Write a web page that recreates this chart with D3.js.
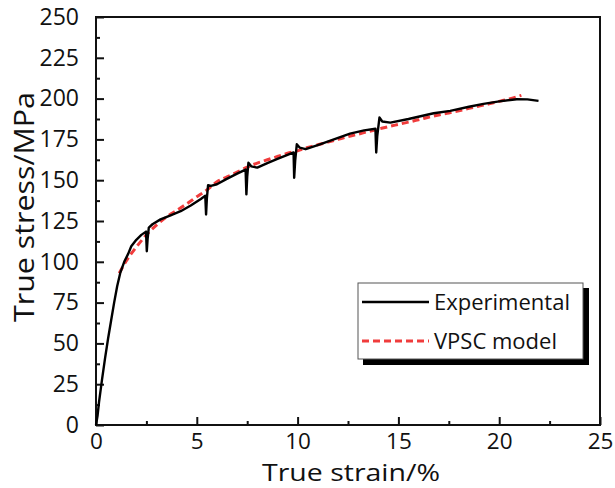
<!DOCTYPE html>
<html>
<head>
<meta charset="utf-8">
<script src="https://cdn.jsdelivr.net/npm/d3@7"></script>
<style>
  html, body { margin: 0; padding: 0; background: #fff; }
  svg { display: block; }
  text { font-family: "Open Sans", "DejaVu Sans", sans-serif; fill: #111; }
</style>
</head>
<body>
<svg id="chart" width="615" height="488"></svg>
<script>
// Measured true stress–strain response (strain %, stress MPa), with the relaxation dips
const experimentalStrain = [0, 0.08, 0.15, 0.3, 0.45, 0.6, 0.75, 0.9, 1.05, 1.2, 1.4, 1.6, 1.75, 2.0, 2.25, 2.48, 2.52, 2.56, 2.62, 2.8, 3.2, 3.7, 4.2, 4.7, 5.2, 5.42, 5.46, 5.5, 5.56, 5.7, 6.0, 6.44, 7.0, 7.42, 7.46, 7.5, 7.56, 7.7, 8.0, 8.5, 9.0, 9.5, 9.8, 9.83, 9.88, 9.96, 10.1, 10.4, 11.0, 11.8, 12.6, 13.3, 13.86, 13.9, 13.95, 14.06, 14.2, 14.6, 15.5, 16.75, 17.57, 18.5, 19.22, 20.0, 20.87, 21.4, 21.95];
const experimentalStress = [0, 6, 14, 28, 41, 53, 64, 75, 85, 93, 100, 105, 109.5, 113.5, 116.5, 118.5, 106.5, 114, 121, 123, 126, 128.5, 131, 134.5, 138.5, 140.5, 129, 139, 147, 146.5, 147.5, 150.5, 154, 156.5, 141.3, 152, 160.7, 158.5, 157.7, 160.5, 163, 165.5, 167, 151.5, 162, 172, 170, 169, 171.5, 175, 178.5, 180.5, 181.5, 167, 177, 188.4, 186, 185.3, 187.5, 191, 192.5, 195, 196.8, 198.3, 199.6, 199.5, 198.6];

// VPSC model prediction
const modelStrain = [1.15, 1.5, 2.0, 2.5, 3.0, 3.5, 4.0, 4.5, 5.0, 5.5, 6.0, 6.5, 7.0, 7.5, 8.0, 8.5, 9.0, 9.5, 10.0, 10.5, 11.0, 11.5, 12.0, 12.5, 13.0, 13.5, 14.0, 14.5, 15.0, 15.5, 16.0, 16.5, 17.0, 17.5, 18.0, 18.5, 19.0, 19.5, 20.0, 20.5, 21.1];
const modelStress = [93, 100.5, 109, 116.5, 122.5, 127.5, 131.5, 135.5, 139.8, 144, 149, 152, 155, 158, 160.5, 162.5, 164.5, 166.5, 168, 170, 171.7, 173.3, 175, 176.7, 178.2, 179.8, 181.3, 182.8, 184.2, 185.6, 187, 188.6, 190, 191.2, 192.6, 194, 195.4, 196.8, 198.3, 199.8, 202];

const xTicks = [0, 5, 10, 15, 20, 25];
const yTicks = [0, 25, 50, 75, 100, 125, 150, 175, 200, 225, 250];
const seriesNames = ["Experimental", "VPSC model"];
const xTitle = "True strain/%";
const yTitle = "True stress/MPa";

const svg = d3.select("#chart");
const plotLeft = 96, plotRight = 600, plotTop = 17, plotBottom = 425;

const x = d3.scaleLinear().domain([0, 25]).range([plotLeft, plotRight]);
const y = d3.scaleLinear().domain([0, 250]).range([plotBottom, plotTop]);

// Minor ticks halfway between the labelled ones
const xMinor = d3.range(2.5, 25, 5);
const yMinor = d3.range(12.5, 250, 25);

// Bottom axis: inward ticks
const gx = svg.append("g").attr("transform", `translate(0,${plotBottom})`);
gx.call(d3.axisBottom(x).tickValues(xTicks).tickSize(-8).tickPadding(8).tickFormat(d3.format("d")));
gx.append("g").call(d3.axisBottom(x).tickValues(xMinor).tickSize(-4).tickFormat(""));
gx.selectAll(".domain").remove();
gx.selectAll("line").attr("stroke", "#111").attr("stroke-width", 2);
gx.selectAll("text").attr("font-size", 22.5).attr("dy", "0.71em").attr("fill", "#111");

// Left axis: inward ticks
const gy = svg.append("g").attr("transform", `translate(${plotLeft},0)`);
gy.call(d3.axisLeft(y).tickValues(yTicks).tickSize(-8).tickPadding(17).tickFormat(d3.format("d")));
gy.append("g").call(d3.axisLeft(y).tickValues(yMinor).tickSize(-4).tickFormat(""));
gy.selectAll(".domain").remove();
gy.selectAll("line").attr("stroke", "#111").attr("stroke-width", 2);
gy.selectAll("text").attr("font-size", 23).attr("fill", "#111");

// Frame
svg.append("rect")
  .attr("x", plotLeft).attr("y", plotTop)
  .attr("width", plotRight - plotLeft).attr("height", plotBottom - plotTop)
  .attr("fill", "none").attr("stroke", "#111").attr("stroke-width", 2);

const expData = experimentalStrain.map((s, i) => [s, experimentalStress[i]]);
const modData = modelStrain.map((s, i) => [s, modelStress[i]]);

const line = d3.line().x(d => x(d[0])).y(d => y(d[1]));
const smooth = d3.line().x(d => x(d[0])).y(d => y(d[1])).curve(d3.curveMonotoneX);

svg.append("path").datum(modData)
  .attr("d", smooth)
  .attr("fill", "none")
  .attr("stroke", "#f03c3c")
  .attr("stroke-width", 3)
  .attr("stroke-dasharray", "7,4");

svg.append("path").datum(expData)
  .attr("d", line)
  .attr("fill", "none")
  .attr("stroke", "#000")
  .attr("stroke-width", 2.4)
  .attr("stroke-linejoin", "round");

// Axis titles
svg.append("text")
  .attr("x", 351).attr("y", 480.5)
  .attr("text-anchor", "middle")
  .attr("font-size", 24)
  .attr("textLength", 178).attr("lengthAdjust", "spacingAndGlyphs")
  .text(xTitle);

svg.append("text")
  .attr("transform", "translate(34,207) rotate(-90)")
  .attr("text-anchor", "middle")
  .attr("font-size", 27)
  .attr("textLength", 230).attr("lengthAdjust", "spacingAndGlyphs")
  .text(yTitle);

// Legend with drop shadow
const lg = svg.append("g");
lg.append("rect").attr("x", 363).attr("y", 288).attr("width", 226).attr("height", 77).attr("fill", "#000");
lg.append("rect").attr("x", 358).attr("y", 283).attr("width", 225).attr("height", 76)
  .attr("fill", "#fff").attr("stroke", "#555").attr("stroke-width", 1);

const legendRows = [
  { name: seriesNames[0], color: "#000", dash: null, w: 2.4, yy: 302 },
  { name: seriesNames[1], color: "#f03c3c", dash: "7,4", w: 3, yy: 341 }
];
legendRows.forEach(r => {
  lg.append("line").attr("x1", 362).attr("x2", 429).attr("y1", r.yy).attr("y2", r.yy)
    .attr("stroke", r.color).attr("stroke-width", r.w)
    .attr("stroke-dasharray", r.dash);
  lg.append("text").attr("x", 434).attr("y", r.yy).attr("dy", "0.35em")
    .attr("font-size", 22).text(r.name);
});
</script>
</body>
</html>
